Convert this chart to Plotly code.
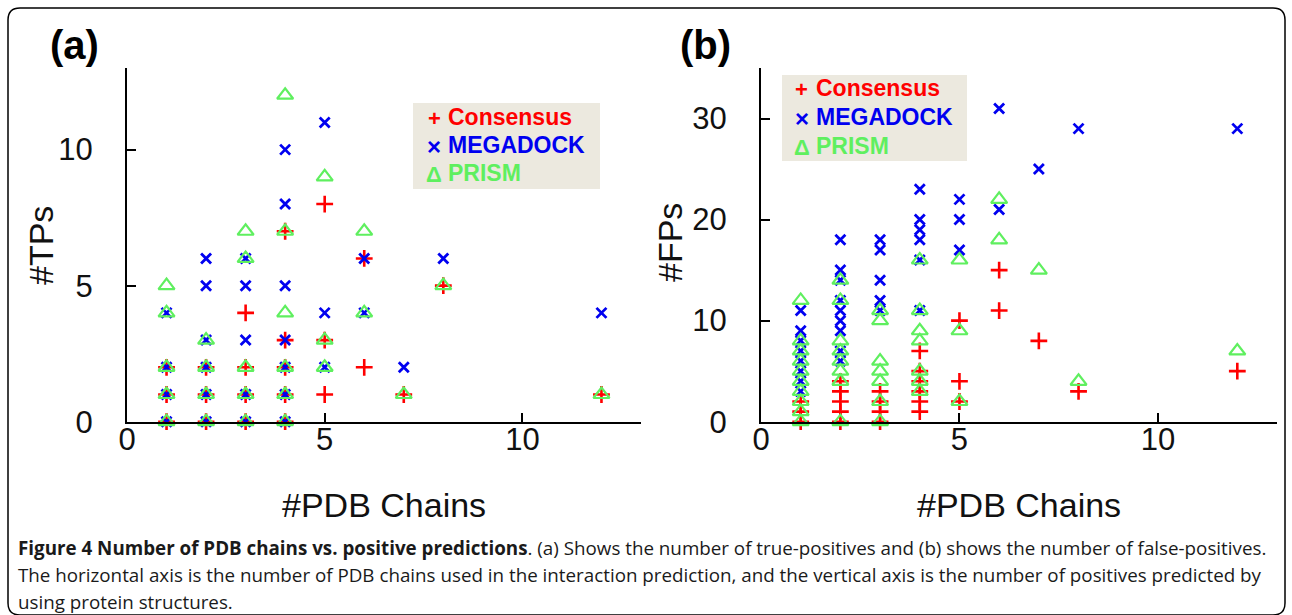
import plotly.graph_objects as go

# ---------------- data ----------------
# Panel (a): #TPs vs #PDB chains
a_cons_x = [1, 1, 1, 2, 2, 2, 3, 3, 3, 3, 4, 4, 4, 4, 4, 5, 5, 5, 6, 6, 7, 8, 12]
a_cons_y = [2, 1, 0, 2, 1, 0, 4, 2, 1, 0, 7, 3, 2, 1, 0, 8, 3, 1, 6, 2, 1, 5, 1]

a_mega_x = [1, 1, 1, 1, 2, 2, 2, 2, 2, 2, 3, 3, 3, 3, 3, 4, 4, 4, 4, 4, 4, 4, 5, 5, 5, 6, 6, 7, 8, 12]
a_mega_y = [4, 2, 1, 0, 6, 5, 3, 2, 1, 0, 6, 5, 3, 1, 0, 10, 8, 5, 3, 2, 1, 0, 11, 4, 2, 6, 4, 2, 6, 4]

a_prism_x = [1, 1, 1, 1, 1, 2, 2, 2, 2, 3, 3, 3, 3, 3, 4, 4, 4, 4, 4, 4, 5, 5, 5, 6, 6, 7, 8, 12]
a_prism_y = [5, 4, 2, 1, 0, 3, 2, 1, 0, 7, 6, 2, 1, 0, 12, 7, 4, 2, 1, 0, 9, 3, 2, 7, 4, 1, 5, 1]

# Panel (b): #FPs vs #PDB chains
b_cons_x = [1, 1, 1, 2, 2, 2, 2, 2, 3, 3, 3, 3, 4, 4, 4, 4, 4, 4, 5, 5, 5, 6, 6, 7, 8, 12]
b_cons_y = [2, 1, 0, 4, 3, 2, 1, 0, 3, 2, 1, 0, 7, 5, 4, 3, 2, 1, 10, 4, 2, 15, 11, 8, 3, 5]

b_mega_x = [1, 1, 1, 1, 1, 1, 1, 1, 2, 2, 2, 2, 2, 2, 2, 2, 2, 3, 3, 3, 3, 3,
            4, 4, 4, 4, 4, 4, 5, 5, 5, 6, 6, 7, 8, 12]
b_mega_y = [11, 9, 8, 7, 6, 5, 4, 3, 18, 15, 14, 12, 11, 10, 9, 7, 6, 18, 17, 14, 12, 11,
            23, 20, 19, 18, 16, 11, 22, 20, 17, 31, 21, 25, 29, 29]

b_prism_x = [1, 1, 1, 1, 1, 1, 1, 1, 1, 1, 2, 2, 2, 2, 2, 2, 2, 2, 3, 3, 3, 3, 3, 3, 3,
             4, 4, 4, 4, 4, 4, 4, 5, 5, 5, 6, 6, 7, 8, 12]
b_prism_y = [12, 8, 7, 6, 5, 4, 3, 2, 1, 0, 14, 12, 8, 7, 6, 5, 4, 0, 11, 10, 6, 5, 4, 2, 0,
             16, 11, 9, 8, 5, 4, 3, 16, 9, 2, 22, 18, 15, 4, 7]

series_names = ["Consensus", "MEGADOCK", "PRISM"]
legend_glyphs = ["+", "\u00d7", "\u0394"]
tick_vals_a = [0, 5, 10]
tick_vals_b = [0, 10, 20, 30]
x_ticks = [0, 5, 10]

RED = "#FF0000"
BLUE = "#0000F0"
GREEN = "#5FEF5F"
COLORS = [RED, BLUE, GREEN]
FONT = "Arial, Liberation Sans, sans-serif"

W, H = 1292, 615


def px(x):
    return x / W


def py(y):
    return 1 - y / H


fig = go.Figure()

styles = [
    dict(symbol="cross-thin", size=12, width=2.6),
    dict(symbol="x-thin", size=10, width=2.8),
    dict(symbol="triangle-up-open", size=14, width=2.2),
]


def add_series(xs, ys, idx, xaxis, yaxis):
    st = styles[idx]
    col = COLORS[idx]
    fig.add_trace(go.Scatter(
        x=xs, y=ys, mode="markers", xaxis=xaxis, yaxis=yaxis,
        name=series_names[idx], showlegend=False, cliponaxis=False,
        marker=dict(symbol=st["symbol"], size=st["size"], color=col,
                    line=dict(color=col, width=st["width"])),
    ))


add_series(a_cons_x, a_cons_y, 0, "x", "y")
add_series(a_mega_x, a_mega_y, 1, "x", "y")
add_series(a_prism_x, a_prism_y, 2, "x", "y")
add_series(b_cons_x, b_cons_y, 0, "x2", "y2")
add_series(b_mega_x, b_mega_y, 1, "x2", "y2")
add_series(b_prism_x, b_prism_y, 2, "x2", "y2")

axis_common = dict(
    showline=True, linecolor="black", linewidth=2,
    ticks="inside", ticklen=9, tickwidth=2, tickcolor="black",
    showgrid=False, zeroline=False, automargin=False,
    tickfont=dict(family=FONT, size=31, color="#111"),
)

ydom = [py(421.7), py(68)]
fig.update_layout(
    width=W, height=H,
    margin=dict(l=0, r=0, t=0, b=0, pad=0, autoexpand=False),
    paper_bgcolor="white", plot_bgcolor="white",
    showlegend=False,
    xaxis=dict(domain=[px(127), px(641)], range=[0, 13], tickvals=x_ticks,
               anchor="y", ticklabelstandoff=-11, **axis_common),
    yaxis=dict(domain=ydom, range=[0, 13], tickvals=tick_vals_a,
               anchor="x", ticklabelstandoff=26, **axis_common),
    xaxis2=dict(domain=[px(761), px(1277)], range=[0, 13], tickvals=x_ticks,
                anchor="y2", ticklabelstandoff=-11, **axis_common),
    yaxis2=dict(domain=ydom, range=[0, 35], tickvals=tick_vals_b,
                anchor="x2", ticklabelstandoff=26, **axis_common),
)

ann = []
shapes = []


def text(x, y, t, size, color="#111", xanchor="center", yanchor="middle", angle=0, family=FONT):
    ann.append(dict(text=t, x=px(x), y=py(y), xref="paper", yref="paper",
                    xanchor=xanchor, yanchor=yanchor, showarrow=False, textangle=angle,
                    borderpad=0, font=dict(family=family, size=size, color=color)))


# panel labels
text(74, 45, "<b>(a)</b>", 40, "black")
text(705, 45, "<b>(b)</b>", 40, "black")
# axis titles
text(384, 505, "#PDB Chains", 34)
text(1019, 505, "#PDB Chains", 34)
text(41, 246, "#TPs", 34, angle=-90)
text(670, 243, "#FPs", 34, angle=-90)

# legends (boxes with coloured entries)
for (bx0, by0, bx1, by1, sym_x, txt_x, rows) in [
    (413, 103, 600, 189, 434, 447, [117, 145, 173]),
    (782, 75, 967, 161, 802, 815, [88, 117, 146]),
]:
    shapes.append(dict(type="rect", xref="paper", yref="paper",
                       x0=px(bx0), x1=px(bx1), y0=py(by1), y1=py(by0),
                       fillcolor="#ECE9DF", line=dict(width=0), layer="below"))
    for i, ry in enumerate(rows):
        text(sym_x, ry + 1, f"<b>{legend_glyphs[i]}</b>", 22 if i != 1 else 24, COLORS[i])
        text(txt_x, ry, f"<b>{series_names[i]}</b>", 23, COLORS[i], xanchor="left")

# caption
cap = [
    "<b>Figure 4 Number of PDB chains vs. positive predictions</b>. (a) Shows the number of "
    "true-positives and (b) shows the number of false-positives.",
    "The horizontal axis is the number of PDB chains used in the interaction prediction, "
    "and the vertical axis is the number of positives predicted by",
    "using protein structures.",
]
for i, line in enumerate(cap):
    text(17, 547.5 + i * 27.2, line, 18.8, "#1a1a1a", xanchor="left", family="Open Sans")

# rounded outer frame (its bottom edge sits at the very bottom of the picture)
x0, y0, x1, y1, r = 8, 8, 1285, 615, 12
path = (f"M {px(x0 + r)},{py(y0)} L {px(x1 - r)},{py(y0)} Q {px(x1)},{py(y0)} {px(x1)},{py(y0 + r)} "
        f"L {px(x1)},{py(y1 - r)} Q {px(x1)},{py(y1)} {px(x1 - r)},{py(y1)} "
        f"L {px(x0 + r)},{py(y1)} Q {px(x0)},{py(y1)} {px(x0)},{py(y1 - r)} "
        f"L {px(x0)},{py(y0 + r)} Q {px(x0)},{py(y0)} {px(x0 + r)},{py(y0)} Z")
shapes.append(dict(type="path", path=path, xref="paper", yref="paper",
                   line=dict(color="black", width=1.5)))

fig.update_layout(annotations=ann, shapes=shapes)

fig.write_html("out.html")
